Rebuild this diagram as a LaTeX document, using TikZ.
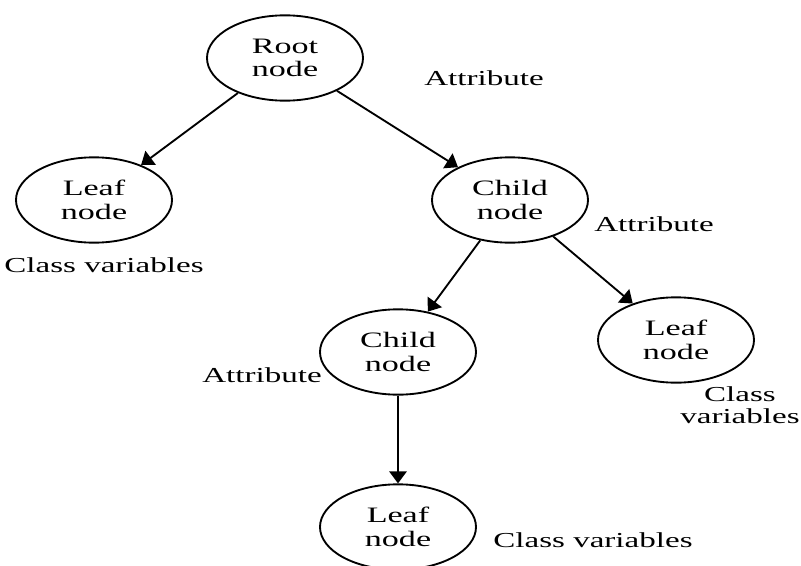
\documentclass[tikz,border=0pt]{standalone}
\usepackage{fontspec}
\setmainfont[FakeStretch=1.55]{Liberation Serif}
\usepackage{tikz}
\usetikzlibrary{arrows.meta, shapes.geometric}

\begin{document}
\begin{tikzpicture}[x=0.75pt, y=-0.75pt,
    treenode/.style={draw, ellipse, line width=1.4pt, minimum width=117pt, minimum height=64pt,
      inner sep=0pt, align=center, font=\fontsize{16.5}{17.5}\selectfont},
    note/.style={align=center, inner sep=0pt, font=\fontsize{16}{16.5}\selectfont},
    edge/.style={-{Triangle[length=9pt, width=13pt]}, line width=1.4pt}]
  \useasboundingbox (0,0) rectangle (801,565);
  \clip (0,0) rectangle (801,565);
  % tree nodes
  \node[treenode] (root) at (285,58) {Root\\node};
  \node[treenode] (leafa) at (94,200) {Leaf\\node};
  \node[treenode] (childa) at (510,200) {Child\\node};
  \node[treenode] (childb) at (398,352) {Child\\node};
  \node[treenode] (leafb) at (676,340) {Leaf\\node};
  \node[treenode] (leafc) at (398,527) {Leaf\\node};
  % labels
  \node[note] (attra) at (484,78) {Attribute};
  \node[note] (attrb) at (654,224) {Attribute};
  \node[note] (attrc) at (262,375) {Attribute};
  \node[note] (classa) at (104,265) {Class variables};
  \node[note] (classb) at (740,405) {Class\\variables};
  \node[note] (classc) at (593,540) {Class variables};
  % edges
  \draw[edge] (root) -- (leafa);
  \draw[edge] (root) -- (childa);
  \draw[edge] (childa) -- (childb);
  \draw[edge] (childa) -- (leafb);
  \draw[edge] (childb) -- (leafc);
\end{tikzpicture}
\end{document}
